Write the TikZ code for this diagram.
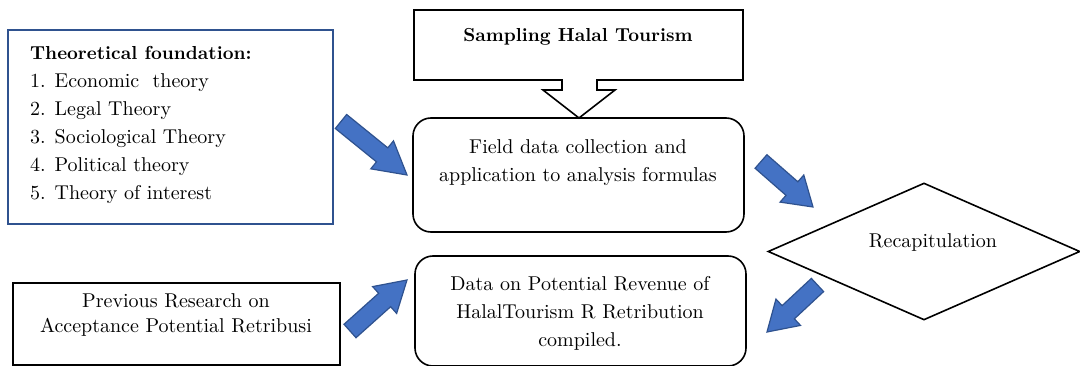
\documentclass[tikz,border=0pt]{standalone}
\usepackage{fontspec}
\setmainfont{lmroman10}[Extension=.otf, UprightFont=*-regular, BoldFont=*-bold, ItalicFont=*-italic, BoldItalicFont=*-bolditalic]
\usetikzlibrary{shapes.geometric,calc}
\definecolor{abl}{HTML}{4472C4}
\definecolor{abd}{HTML}{2F528F}
\newcommand\bodysize{\fontsize{20}{28}\selectfont}
\newcommand\headsize{\fontsize{18.8}{28}\selectfont\bfseries}
\tikzset{
  outl/.style={draw=black, line width=1.6pt},
  rbox/.style={outl, rounded corners=18pt, inner sep=0pt},
  txt/.style={font=\bodysize, align=center, inner sep=0pt},
  barrow/.style={fill=abl, draw=abd, line width=1.2pt, line join=miter},
}
\newcommand\blockarrow[3]{%
  \coordinate (#1#2b) at ($(#2)!#3!(#1)$);
  \draw[barrow] ($(#1)!9pt!90:(#2)$) -- ($(#1#2b)!9pt!90:(#2)$) -- ($(#1#2b)!18pt!90:(#2)$) -- (#2)
    -- ($(#1#2b)!18pt!-90:(#2)$) -- ($(#1#2b)!9pt!-90:(#2)$) -- ($(#1)!9pt!-90:(#2)$) -- cycle;
}
\begin{document}
\begin{tikzpicture}[x=1pt,y=-1pt]
\useasboundingbox (0,0) rectangle (1080,366);
\fill[white] (0,0) rectangle (1080,366);

% theoretical foundation box
\node[draw=abd, line width=1.6pt, minimum width=325pt, minimum height=194pt, inner sep=0pt] (theory) at (170.5,127) {};
\node[txt, align=left, anchor=west] (theorytext) at (30,125)
  {{\headsize Theoretical foundation:}\\1. Economic~ theory\\2. Legal Theory\\3. Sociological Theory\\4. Political theory\\5. Theory of interest};

% sampling callout
\coordinate (s1) at (414,10); \coordinate (s2) at (743,10); \coordinate (s3) at (743,80);
\coordinate (s4) at (597,80); \coordinate (s5) at (597,90); \coordinate (s6) at (615,90);
\coordinate (s7) at (579,118); \coordinate (s8) at (543,90); \coordinate (s9) at (562,90);
\coordinate (s10) at (562,80); \coordinate (s11) at (414,80);
\draw[outl, line join=miter] (s1) -- (s2) -- (s3) -- (s4) -- (s5) -- (s6) -- (s7) -- (s8) -- (s9) -- (s10) -- (s11) -- cycle;
\node[txt, font=\headsize] (samp) at (578,37) {Sampling Halal Tourism};

% field box
\node[rbox, minimum width=331pt, minimum height=114pt] (field) at (578.5,175) {};
\node[txt] (fieldtext) at (578,162.5) {Field data collection and\\application to analysis formulas};

% data box
\node[rbox, minimum width=331pt, minimum height=110pt] (data) at (580.5,311) {};
\node[txt] (datatext) at (580,313.5) {Data on Potential Revenue of\\HalalTourism R Retribution\\compiled.};

% previous research box
\node[outl, minimum width=327pt, minimum height=82pt, inner sep=0pt] (prev) at (176.5,324) {};
\node[txt, font=\fontsize{20}{25}\selectfont] (prevtext) at (176,315.5) {Previous Research on\\Acceptance Potential Retribusi};

% diamond
\node[outl, diamond, aspect=2.3, minimum width=312pt, minimum height=137pt, inner sep=0pt] (rec) at (924,251.5) {};
\node[txt] (rectext) at (933,243) {Recapitulation};

% block arrows
\coordinate (a1t) at (341,121.5); \coordinate (a1h) at (407,175);
\coordinate (a2t) at (761,161.5); \coordinate (a2h) at (813,207);
\coordinate (a3t) at (817.5,285); \coordinate (a3h) at (767,332);
\coordinate (a4t) at (350,331);   \coordinate (a4h) at (407,280);
\blockarrow{a1t}{a1h}{32pt}
\blockarrow{a2t}{a2h}{28pt}
\blockarrow{a3t}{a3h}{29pt}
\blockarrow{a4t}{a4h}{30pt}
\end{tikzpicture}
\end{document}
